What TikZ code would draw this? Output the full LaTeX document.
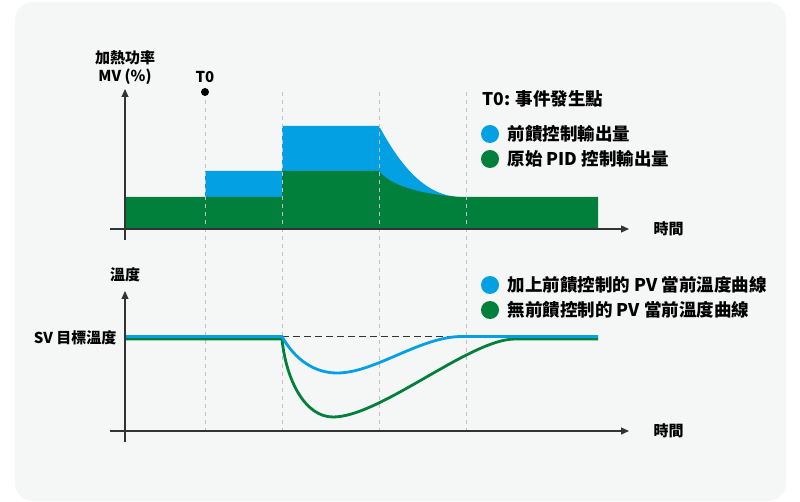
\documentclass[tikz,border=0pt]{standalone}
\usepackage{fontspec}
\setmainfont{Noto Sans CJK TC}
\usetikzlibrary{arrows.meta,positioning}
\definecolor{feedblue}{RGB}{3,160,228}
\definecolor{pidgreen}{RGB}{0,128,58}
\definecolor{axisgray}{RGB}{51,51,51}
\definecolor{guidegray}{RGB}{192,192,192}
\definecolor{panelgray}{RGB}{245,246,246}

\begin{document}
\begin{tikzpicture}[
  x=1pt, y=-1pt,
  axisline/.style={-{Triangle[length=8pt,width=7pt]}, line width=1.2pt, draw=axisgray},
  guide/.style={draw=guidegray, line width=1pt, dash pattern=on 4pt off 4pt},
  svline/.style={draw=axisgray, line width=1.8pt, dash pattern=on 7pt off 4pt},
  pvcurve/.style={line width=2.8pt},
  axislabel/.style={font=\fontsize{15}{18}\selectfont\bfseries, text=black, align=center},
  legendtext/.style={font=\fontsize{17.5}{20}\selectfont\bfseries, text=black},
  legenddot/.style={circle, minimum size=18pt, inner sep=0pt}
]
\useasboundingbox (0,0) rectangle (800,502);

% Panel
\fill[panelgray, rounded corners=18pt] (15,2) rectangle (786,501);

% MV fills
\fill[feedblue] (205,229) -- (205,171) -- (282,171) -- (282,126) -- (379,126)
  .. controls (395,155) and (420,196) .. (460,197) -- (460,229) -- cycle;
\fill[pidgreen] (125,229) -- (125,197) -- (282,197) -- (282,171) -- (379,171)
  .. controls (386,180) and (405,193) .. (460,197) -- (598,197) -- (598,229) -- cycle;

% Time marks
\draw[guide] (205,92) -- (205,431);
\draw[guide] (282,92) -- (282,431);
\draw[guide] (379,92) -- (379,431);
\draw[guide] (466,92) -- (466,431);

% PV curves
\draw[pvcurve, pidgreen] (125,339) -- (282,339)
  .. controls (286,380) and (305,417) .. (333,417)
  .. controls (380,417) and (470,339) .. (515,339) -- (598,339);
\draw[svline] (282,336.5) -- (456,336.5);
\draw[pvcurve, feedblue] (125,336.5) -- (282,336.5)
  .. controls (295,360) and (315,373) .. (337,373)
  .. controls (375,373) and (420,336.5) .. (462,336.5) -- (598,336.5);

% Axes
\coordinate (mvx0) at (110,229);
\coordinate (mvx1) at (629,229);
\coordinate (mvy0) at (125,240);
\coordinate (mvy1) at (125,89);
\coordinate (pvx0) at (110,431);
\coordinate (pvx1) at (629,431);
\coordinate (pvy0) at (125,442);
\coordinate (pvy1) at (125,291);
\draw[axisline] (mvx0) -- (mvx1);
\draw[axisline] (mvy0) -- (mvy1);
\draw[axisline] (pvx0) -- (pvx1);
\draw[axisline] (pvy0) -- (pvy1);

% Axis labels
\node[axislabel] (mvlabel) at (125,68) {加熱功率\\MV (\%)};
\node[axislabel, right=21pt of mvx1] (mvtime) {時間};
\node[axislabel] (pvlabel) at (125,275) {溫度};
\node[axislabel, right=21pt of pvx1] (pvtime) {時間};
\node[axislabel, anchor=east] (svlabel) at (120,338) {SV 目標溫度};

% T0 marker
\node[circle, fill=black, inner sep=0pt, minimum size=8pt] (tzero) at (205,92) {};
\node[axislabel] (tzerolabel) at (205,77) {T0};

% Legends
\node[legendtext, anchor=west] (eventnote) at (479,99) {T0: 事件發生點};
\node[legenddot, fill=feedblue] (mvffdot) at (490,134) {};
\node[legendtext, right=5pt of mvffdot] (mvfftext) {前饋控制輸出量};
\node[legenddot, fill=pidgreen] (mvpiddot) at (490,159) {};
\node[legendtext, right=5pt of mvpiddot] (mvpidtext) {原始 PID 控制輸出量};
\node[legenddot, fill=feedblue] (pvffdot) at (490,285) {};
\node[legendtext, right=5pt of pvffdot] (pvfftext) {加上前饋控制的 PV 當前溫度曲線};
\node[legenddot, fill=pidgreen] (pvpiddot) at (490,310) {};
\node[legendtext, right=5pt of pvpiddot] (pvpidtext) {無前饋控制的 PV 當前溫度曲線};

\end{tikzpicture}
\end{document}
